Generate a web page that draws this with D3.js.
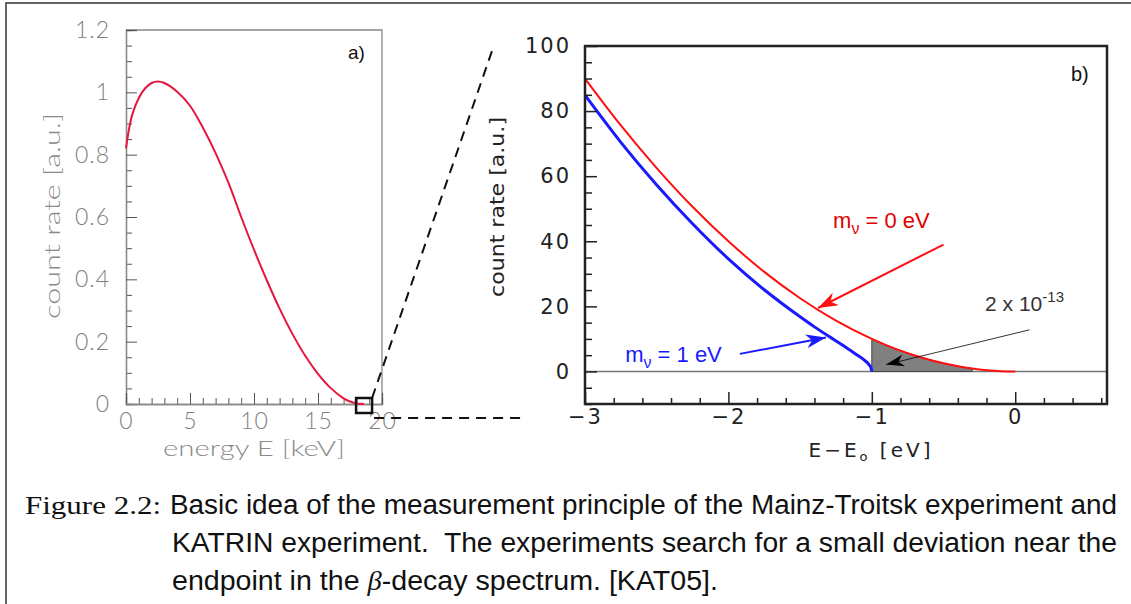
<!DOCTYPE html>
<html><head><meta charset="utf-8">
<script src="https://cdn.jsdelivr.net/npm/d3@7/dist/d3.min.js"></script>
<style>body{margin:0;background:#fff}svg{display:block}</style>
</head><body>
<svg id="c" width="1131" height="604"></svg>
<script>
// ---- Panel a) : full beta spectrum ----
const spectrumEnergy = [0,0.25,0.5,1,1.5,2,2.5,3,4,5,6,7,8,9,10,11,12,13,14,15,16,17,17.5,18,18.3,18.6];
const spectrumRate   = [0.82,0.885,0.93,0.982,1.013,1.03,1.035,1.03,1.002,0.957,0.887,0.805,0.71,0.6,0.495,0.397,0.306,0.225,0.155,0.097,0.051,0.018,0.008,0.002,0.0005,0];
const aXTicks = [0,5,10,15,20];
const aXTickLabels = ["0","5","10","15","20"];
const aYTicks = [0,0.2,0.4,0.6,0.8,1,1.2];
const aYTickLabels = ["0","0.2","0.4","0.6","0.8","1","1.2"];

// ---- Panel b) : endpoint region ----
const deltaE0 = [-3,-2.75,-2.5,-2.25,-2,-1.75,-1.5,-1.25,-1,-0.9,-0.8,-0.7,-0.6,-0.5,-0.4,-0.3,-0.2,-0.1,0];
const rateMass0 = [90,75.6,62.5,50.6,40,30.6,22.5,15.6,10,8.1,6.4,4.9,3.6,2.5,1.6,0.9,0.4,0.1,0];
const deltaE1 = [-3,-2.75,-2.5,-2.25,-2,-1.75,-1.5,-1.4,-1.3,-1.2,-1.15,-1.1,-1.05,-1.02,-1.005,-1];
const rateMass1 = [84.9,70.4,57.3,45.4,34.6,25.1,16.8,13.7,10.8,8.0,6.5,5.0,3.4,2.1,1.0,0];
const shadedFrom = -1, shadedTo = -0.3;
const bXTicks = [-3,-2,-1,0];
const bXTickLabels = ["\u22123","\u22122","\u22121","0"];
const bYTicks = [0,20,40,60,80,100];
const bYTickLabels = ["0","20","40","60","80","100"];

const captionLines = [
  "Basic idea of the measurement principle of the Mainz-Troitsk experiment and",
  "KATRIN experiment.  The experiments search for a small deviation near the"
];

const svg = d3.select("#c");

// outer frame (cropped)
svg.append("path").attr("d","M6,604 L6,3 L1131,3").attr("fill","none").attr("stroke","#333").attr("stroke-width",1.5);

// ================= Panel a =================
const ax = d3.scaleLinear().domain([0,20]).range([126,382]);
const ay = d3.scaleLinear().domain([0,1.2]).range([404,30]);
const ga = svg.append("g");
const lightFont = "Lato, 'Open Sans', sans-serif";

ga.append("path").attr("d",`M${ax(0)},${ay(1.2)} L${ax(20)},${ay(1.2)} L${ax(20)},${ay(0)}`)
  .attr("fill","none").attr("stroke","#888").attr("stroke-width",1.3);

const aMinorY = d3.range(0,1.2001,0.05).filter(v=>Math.abs(v/0.2-Math.round(v/0.2))>1e-6);
const aMinorX = d3.range(0,20.001,1).filter(v=>v%5!==0);
const yAxisA = ga.append("g").attr("transform",`translate(${ax(0)},0)`)
  .call(d3.axisLeft(ay).tickValues(aMinorY).tickSize(-6).tickFormat(""));
const yAxisAMaj = ga.append("g").attr("transform",`translate(${ax(0)},0)`)
  .call(d3.axisLeft(ay).tickValues(aYTicks).tickSize(-11).tickPadding(16).tickFormat((d,i)=>aYTickLabels[i]));
const xAxisA = ga.append("g").attr("transform",`translate(0,${ay(0)})`)
  .call(d3.axisBottom(ax).tickValues(aMinorX).tickSize(-6).tickFormat(""));
const xAxisAMaj = ga.append("g").attr("transform",`translate(0,${ay(0)})`)
  .call(d3.axisBottom(ax).tickValues(aXTicks).tickSize(-11).tickPadding(5).tickFormat((d,i)=>aXTickLabels[i]));
[yAxisA,yAxisAMaj,xAxisA,xAxisAMaj].forEach(g=>{
  g.select(".domain").attr("stroke","#888").attr("stroke-width",1.3);
  g.selectAll(".tick line").attr("stroke","#555").attr("stroke-width",1);
  g.selectAll("text").attr("fill","#808080").attr("font-family",lightFont).attr("font-weight",300)
    .attr("font-size",23).attr("letter-spacing","1px");
});
xAxisAMaj.selectAll("text").attr("dy","0.85em");

ga.append("text").attr("transform",`translate(60,216) rotate(-90)`).attr("text-anchor","middle")
  .attr("fill","#8a8a8a").attr("font-family",lightFont).attr("font-weight",300).attr("font-size",21)
  .attr("textLength",206).attr("lengthAdjust","spacingAndGlyphs").text("count rate  [a.u.]");
ga.append("text").attr("x",254).attr("y",456).attr("text-anchor","middle")
  .attr("fill","#8a8a8a").attr("font-family",lightFont).attr("font-weight",300).attr("font-size",21)
  .attr("textLength",182).attr("lengthAdjust","spacingAndGlyphs").text("energy E  [keV]");
ga.append("text").attr("x",348).attr("y",59).attr("fill","#111").attr("font-family","'Liberation Sans',Arial,sans-serif")
  .attr("font-size",19).text("a)");

ga.append("path").datum(spectrumEnergy.map((e,i)=>[e,spectrumRate[i]]))
  .attr("fill","none").attr("stroke","#e5173f").attr("stroke-width",2)
  .attr("d",d3.line().x(d=>ax(d[0])).y(d=>ay(d[1])).curve(d3.curveCatmullRom.alpha(0.5)));

// zoom square and dashed guide lines
const sqE = 18.6;
ga.append("rect").attr("x",ax(sqE)-8).attr("y",ay(0)-6).attr("width",16).attr("height",15)
  .attr("fill","none").attr("stroke","#111").attr("stroke-width",2.5);
ga.append("line").attr("x1",ax(sqE)+8).attr("y1",ay(0)-6).attr("x2",493).attr("y2",48)
  .attr("stroke","#111").attr("stroke-width",2).attr("stroke-dasharray","10,7");
ga.append("line").attr("x1",ax(sqE)+10).attr("y1",418).attr("x2",526).attr("y2",418)
  .attr("stroke","#111").attr("stroke-width",2).attr("stroke-dasharray","10,7");

// ================= Panel b =================
const bx = d3.scaleLinear().domain([-3,0.64]).range([585,1107]);
const by = d3.scaleLinear().domain([-10,100]).range([404,46]);
const gb = svg.append("g");
const bFont = "'DejaVu Sans', Verdana, sans-serif";

gb.append("line").attr("x1",bx(-3)).attr("x2",bx(0.64)).attr("y1",by(0)).attr("y2",by(0))
  .attr("stroke","#777").attr("stroke-width",1.5);

const shadeData = deltaE0.map((e,i)=>[e,rateMass0[i]]).filter(d=>d[0]>=shadedFrom && d[0]<=shadedTo);
gb.append("path").datum(shadeData)
  .attr("fill","#808080").attr("stroke","#444").attr("stroke-width",1)
  .attr("d",d3.area().x(d=>bx(d[0])).y0(by(0)).y1(d=>by(d[1])).curve(d3.curveMonotoneX));

gb.append("path").datum(deltaE1.map((e,i)=>[e,rateMass1[i]]))
  .attr("fill","none").attr("stroke","#1a1aff").attr("stroke-width",3)
  .attr("d",d3.line().x(d=>bx(d[0])).y(d=>by(d[1])).curve(d3.curveMonotoneX));
gb.append("path").datum(deltaE0.map((e,i)=>[e,rateMass0[i]]))
  .attr("fill","none").attr("stroke","#ff1010").attr("stroke-width",2)
  .attr("d",d3.line().x(d=>bx(d[0])).y(d=>by(d[1])).curve(d3.curveMonotoneX));

const bMinorY = d3.range(-10,100.001,5).filter(v=>v%20!==0);
const bMinorX = d3.range(-3,0.6401,0.2).filter(v=>Math.abs(v-Math.round(v))>1e-6);
const yB1 = gb.append("g").attr("transform",`translate(${bx(-3)},0)`)
  .call(d3.axisLeft(by).tickValues(bMinorY).tickSize(-7).tickFormat(""));
const yB2 = gb.append("g").attr("transform",`translate(${bx(-3)},0)`)
  .call(d3.axisLeft(by).tickValues(bYTicks).tickSize(-12).tickPadding(14).tickFormat((d,i)=>bYTickLabels[i]));
const xB1 = gb.append("g").attr("transform",`translate(0,${by(-10)})`)
  .call(d3.axisBottom(bx).tickValues(bMinorX).tickSize(-6).tickFormat(""));
const xB2 = gb.append("g").attr("transform",`translate(0,${by(-10)})`)
  .call(d3.axisBottom(bx).tickValues(bXTicks).tickSize(-12).tickPadding(3).tickFormat((d,i)=>bXTickLabels[i]));
[yB1,yB2,xB1,xB2].forEach(g=>{
  g.select(".domain").remove();
  g.selectAll(".tick line").attr("stroke","#222").attr("stroke-width",1.5);
  g.selectAll("text").attr("fill","#222").attr("font-family",bFont).attr("font-size",21).attr("letter-spacing","2px");
});
xB2.selectAll("text").attr("dy","0.8em");
gb.append("rect").attr("x",bx(-3)).attr("y",by(100)).attr("width",bx(0.64)-bx(-3)).attr("height",by(-10)-by(100))
  .attr("fill","none").attr("stroke","#222").attr("stroke-width",2.5);

gb.append("text").attr("transform",`translate(504,207) rotate(-90)`).attr("text-anchor","middle")
  .attr("fill","#222").attr("font-family",bFont).attr("font-size",19)
  .attr("textLength",180).attr("lengthAdjust","spacingAndGlyphs").text("count rate [a.u.]");
const xl = gb.append("text").attr("x",871).attr("y",457).attr("text-anchor","middle")
  .attr("fill","#222").attr("font-family",bFont).attr("font-size",20).attr("letter-spacing","3px");
xl.append("tspan").text("E\u2212E");
xl.append("tspan").attr("font-size",13).attr("dy",4).text("o");
xl.append("tspan").attr("dy",-4).text(" [eV]");

gb.append("text").attr("x",1071).attr("y",81).attr("fill","#111").attr("font-family","'Liberation Sans',Arial,sans-serif")
  .attr("font-size",20).text("b)");

const defs = svg.append("defs");
function mk(id,color,w,h){
  defs.append("marker").attr("id",id).attr("viewBox",`0 0 ${w} ${h}`).attr("refX",w).attr("refY",h/2)
    .attr("markerWidth",w).attr("markerHeight",h).attr("markerUnits","userSpaceOnUse").attr("orient","auto")
    .append("path").attr("d",`M0,0 L${w},${h/2} L0,${h} L${w*0.3},${h/2} Z`).attr("fill",color);
}
mk("ar","#ff1010",20,14); mk("ab","#1a1aff",20,14); mk("ak","#000",18,12);

gb.append("line").attr("x1",bx(-0.5)).attr("y1",by(39)).attr("x2",bx(-1.375)).attr("y2",by(19.5))
  .attr("stroke","#ff1010").attr("stroke-width",2).attr("marker-end","url(#ar)");
gb.append("line").attr("x1",bx(-1.92)).attr("y1",by(5.4)).attr("x2",bx(-1.32)).attr("y2",by(10.4))
  .attr("stroke","#1a1aff").attr("stroke-width",2).attr("marker-end","url(#ab)");
gb.append("line").attr("x1",bx(0.1)).attr("y1",by(12.8)).attr("x2",bx(-0.9)).attr("y2",by(2.1))
  .attr("stroke","#000").attr("stroke-width",0.8).attr("marker-end","url(#ak)");

const annFont = "'Liberation Sans',Arial,sans-serif";
function massLabel(x,y,color,val){
  const t = gb.append("text").attr("x",bx(x)).attr("y",by(y)).attr("fill",color).attr("font-family",annFont).attr("font-size",22);
  t.append("tspan").text("m");
  t.append("tspan").attr("font-size",16).attr("dy",6).text("\u03bd");
  t.append("tspan").attr("dy",-6).text(" = " + val + " eV");
}
massLabel(-1.27,44,"#e00000","0");
massLabel(-2.72,3,"#1a1aff","1");
const ann = gb.append("text").attr("x",bx(-0.21)).attr("y",by(18.5)).attr("fill","#333").attr("font-family",annFont).attr("font-size",21);
ann.append("tspan").text("2 x 10");
ann.append("tspan").attr("font-size",15).attr("dy",-9).text("-13");

// ================= Caption =================
const serif = "'Liberation Serif','DejaVu Serif',serif";
const capFont = "'Liberation Sans',Arial,sans-serif";
svg.append("text").attr("x",25).attr("y",514).attr("fill","#111").attr("font-family",serif).attr("font-size",25)
  .attr("textLength",136).attr("lengthAdjust","spacingAndGlyphs").text("Figure 2.2:");
svg.append("text").attr("x",170).attr("y",514).attr("fill","#111").attr("font-family",capFont).attr("font-size",27)
  .attr("textLength",947).attr("lengthAdjust","spacingAndGlyphs").text(captionLines[0]);
svg.append("text").attr("x",172).attr("y",552).attr("fill","#111").attr("font-family",capFont).attr("font-size",27)
  .attr("textLength",945).attr("lengthAdjust","spacingAndGlyphs").attr("xml:space","preserve").text(captionLines[1]);
const l3 = svg.append("text").attr("x",172).attr("y",590).attr("fill","#111").attr("font-family",capFont).attr("font-size",27)
  .attr("textLength",546).attr("lengthAdjust","spacingAndGlyphs");
l3.append("tspan").text("endpoint in the ");
l3.append("tspan").attr("font-family",serif).attr("font-style","italic").text("\u03b2");
l3.append("tspan").text("-decay spectrum. [KAT05].");
</script>
</body></html>
